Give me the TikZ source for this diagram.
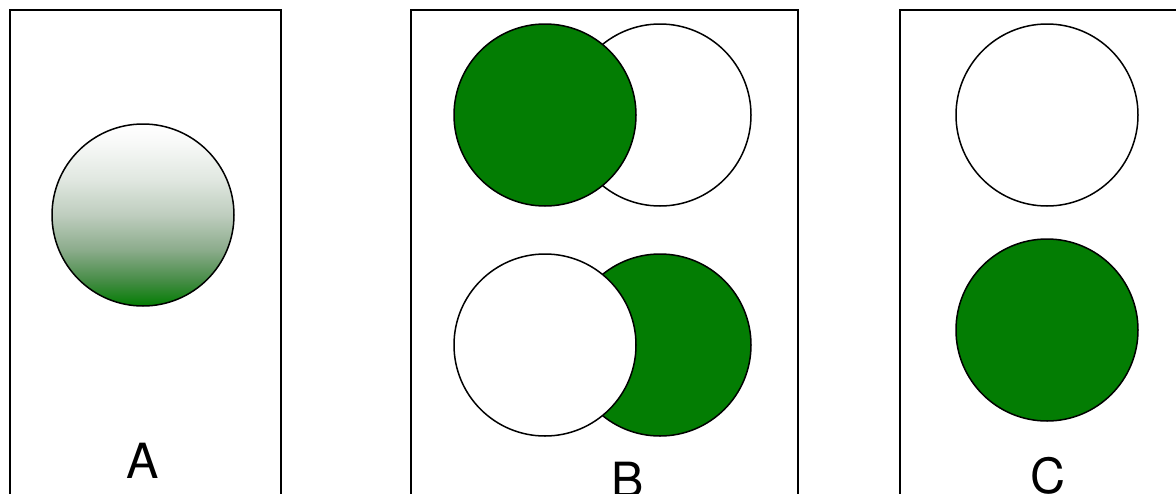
\documentclass[tikz,border=0pt]{standalone}
\usepackage{fontspec}
\setmainfont{TeX Gyre Heros}
\definecolor{grn}{RGB}{3,125,3}
\definecolor{gA}{RGB}{248,249,248}
\definecolor{gB}{RGB}{225,232,225}
\definecolor{gC}{RGB}{190,205,190}
\definecolor{gD}{RGB}{140,172,140}
\definecolor{gE}{RGB}{70,140,70}
\pgfdeclareverticalshading{fadegreen}{100bp}{color(0bp)=(grn); color(25bp)=(grn); color(32bp)=(gE); color(40.5bp)=(gD); color(50bp)=(gC); color(60bp)=(gB); color(70bp)=(gA); color(75bp)=(white); color(100bp)=(white)}
\begin{document}
\begin{tikzpicture}[x=1pt,y=-1pt,
  panel/.style={draw=black,line width=2pt},
  disc/.style={circle,draw=black,line width=1.5pt,minimum size=182pt,inner sep=0pt},
  lbl/.style={font=\fontsize{48.5}{58}\selectfont,inner sep=0pt,anchor=base}]
\useasboundingbox (0,0) rectangle (1176,493);
\fill[white] (0,0) rectangle (1176,493);
% panels (open at bottom)
\draw[panel] (10,500) -- (10,10) -- (281,10) -- (281,500);
\draw[panel] (411,500) -- (411,10) -- (798,10) -- (798,500);
\draw[panel] (900,500) -- (900,10) -- (1180,10);
% A
\node[disc,shading=fadegreen] (a1) at (143,215) {};
\node[lbl] (la) at (143,478) {A};
% B
\node[disc,fill=white] (b2) at (660,115) {};
\node[disc,fill=grn] (b1) at (545,115) {};
\node[disc,fill=grn] (b4) at (660,345) {};
\node[disc,fill=white] (b3) at (545,345) {};
\node[lbl] (lb) at (628,497) {B};
% C
\node[disc,fill=white] (c1) at (1047,115) {};
\node[disc,fill=grn] (c2) at (1047,330) {};
\node[lbl] (lc) at (1048,493) {C};
\end{tikzpicture}
\end{document}
